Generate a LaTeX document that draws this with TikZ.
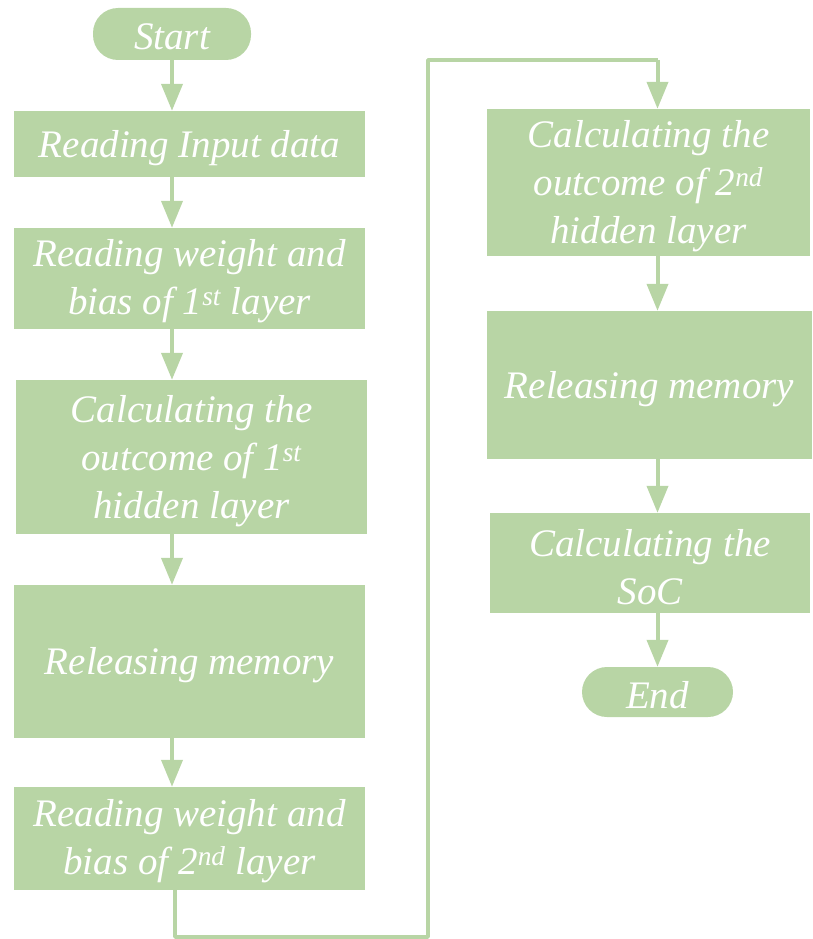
\documentclass[tikz,border=0pt]{standalone}
\usepackage{fontspec}
\setmainfont{Liberation Serif}
\usetikzlibrary{arrows.meta}
\definecolor{leaf}{RGB}{184,213,165}
\begin{document}
\begin{tikzpicture}[x=1pt,y=-1pt,
  box/.style={fill=leaf,draw=none,inner sep=0pt},
  pill/.style={box,rounded corners=25pt},
  txt/.style={text=white,align=center,inner sep=0pt,
    font=\fontsize{39}{48}\selectfont\itshape},
  link/.style={draw=leaf,line width=4pt,-{Triangle[width=21pt,length=27pt]}},
  wire/.style={draw=leaf,line width=3.5pt}]
\useasboundingbox (0,0) rectangle (812,939);
\node[pill,minimum width=158pt,minimum height=52pt] (start) at (172,34) {};
\node[box,minimum width=351pt,minimum height=66pt] (b1) at (189.5,144) {};
\node[box,minimum width=351pt,minimum height=101pt] (b2) at (189.5,278.5) {};
\node[box,minimum width=351pt,minimum height=154pt] (b3) at (191.5,457) {};
\node[box,minimum width=351pt,minimum height=153pt] (b4) at (189.5,661.5) {};
\node[box,minimum width=351pt,minimum height=103pt] (b5) at (189.5,838.5) {};
\node[box,minimum width=323pt,minimum height=147pt] (b6) at (648.5,182.5) {};
\node[box,minimum width=325pt,minimum height=148pt] (b7) at (649.5,385) {};
\node[box,minimum width=320pt,minimum height=100pt] (b8) at (650,563) {};
\node[pill,minimum width=151pt,minimum height=50pt] (end) at (657.5,692) {};
\node[txt] (t0) at ([yshift=-3pt]start.center) {Start};
\node[txt] (t1) at ([yshift=-4pt]b1.center) {Reading Input data};
\node[txt] (t2) at ([yshift=-3pt]b2.center) {Reading weight and\\bias of 1\textsuperscript{st} layer};
\node[txt] (t3) at ([yshift=-4pt]b3.center) {Calculating the\\outcome of 1\textsuperscript{st}\\hidden layer};
\node[txt] (t4) at ([yshift=-4pt]b4.center) {Releasing memory};
\node[txt] (t5) at ([yshift=-3pt]b5.center) {Reading weight and\\bias of 2\textsuperscript{nd} layer};
\node[txt] (t6) at ([yshift=-4pt]b6.center) {Calculating the\\outcome of 2\textsuperscript{nd}\\hidden layer};
\node[txt] (t7) at ([yshift=-4pt]b7.center) {Releasing memory};
\node[txt] (t8) at ([yshift=-4pt]b8.center) {Calculating the\\SoC};
\node[txt] (t9) at ([yshift=-3pt]end.center) {End};
\draw[link] (start.south) -- (start.south |- b1.north);
\draw[link] (b1.south -| start) -- (b2.north -| start);
\draw[link] (b2.south -| start) -- (b3.north -| start);
\draw[link] (b3.south -| start) -- (b4.north -| start);
\draw[link] (b4.south -| start) -- (b5.north -| start);
\coordinate (c1) at (175,937);
\coordinate (c2) at (428,937);
\coordinate (c3) at (428,60);
\draw[wire,line join=round] (b5.south -| c1) -- (c1) -- (c2) -- (c3) -- (c3 -| end);
\draw[link] (c3 -| end) -- (b6.north -| end);
\draw[link] (b6.south -| end) -- (b7.north -| end);
\draw[link] (b7.south -| end) -- (b8.north -| end);
\draw[link] (b8.south -| end) -- (end.north);
\end{tikzpicture}
\end{document}
